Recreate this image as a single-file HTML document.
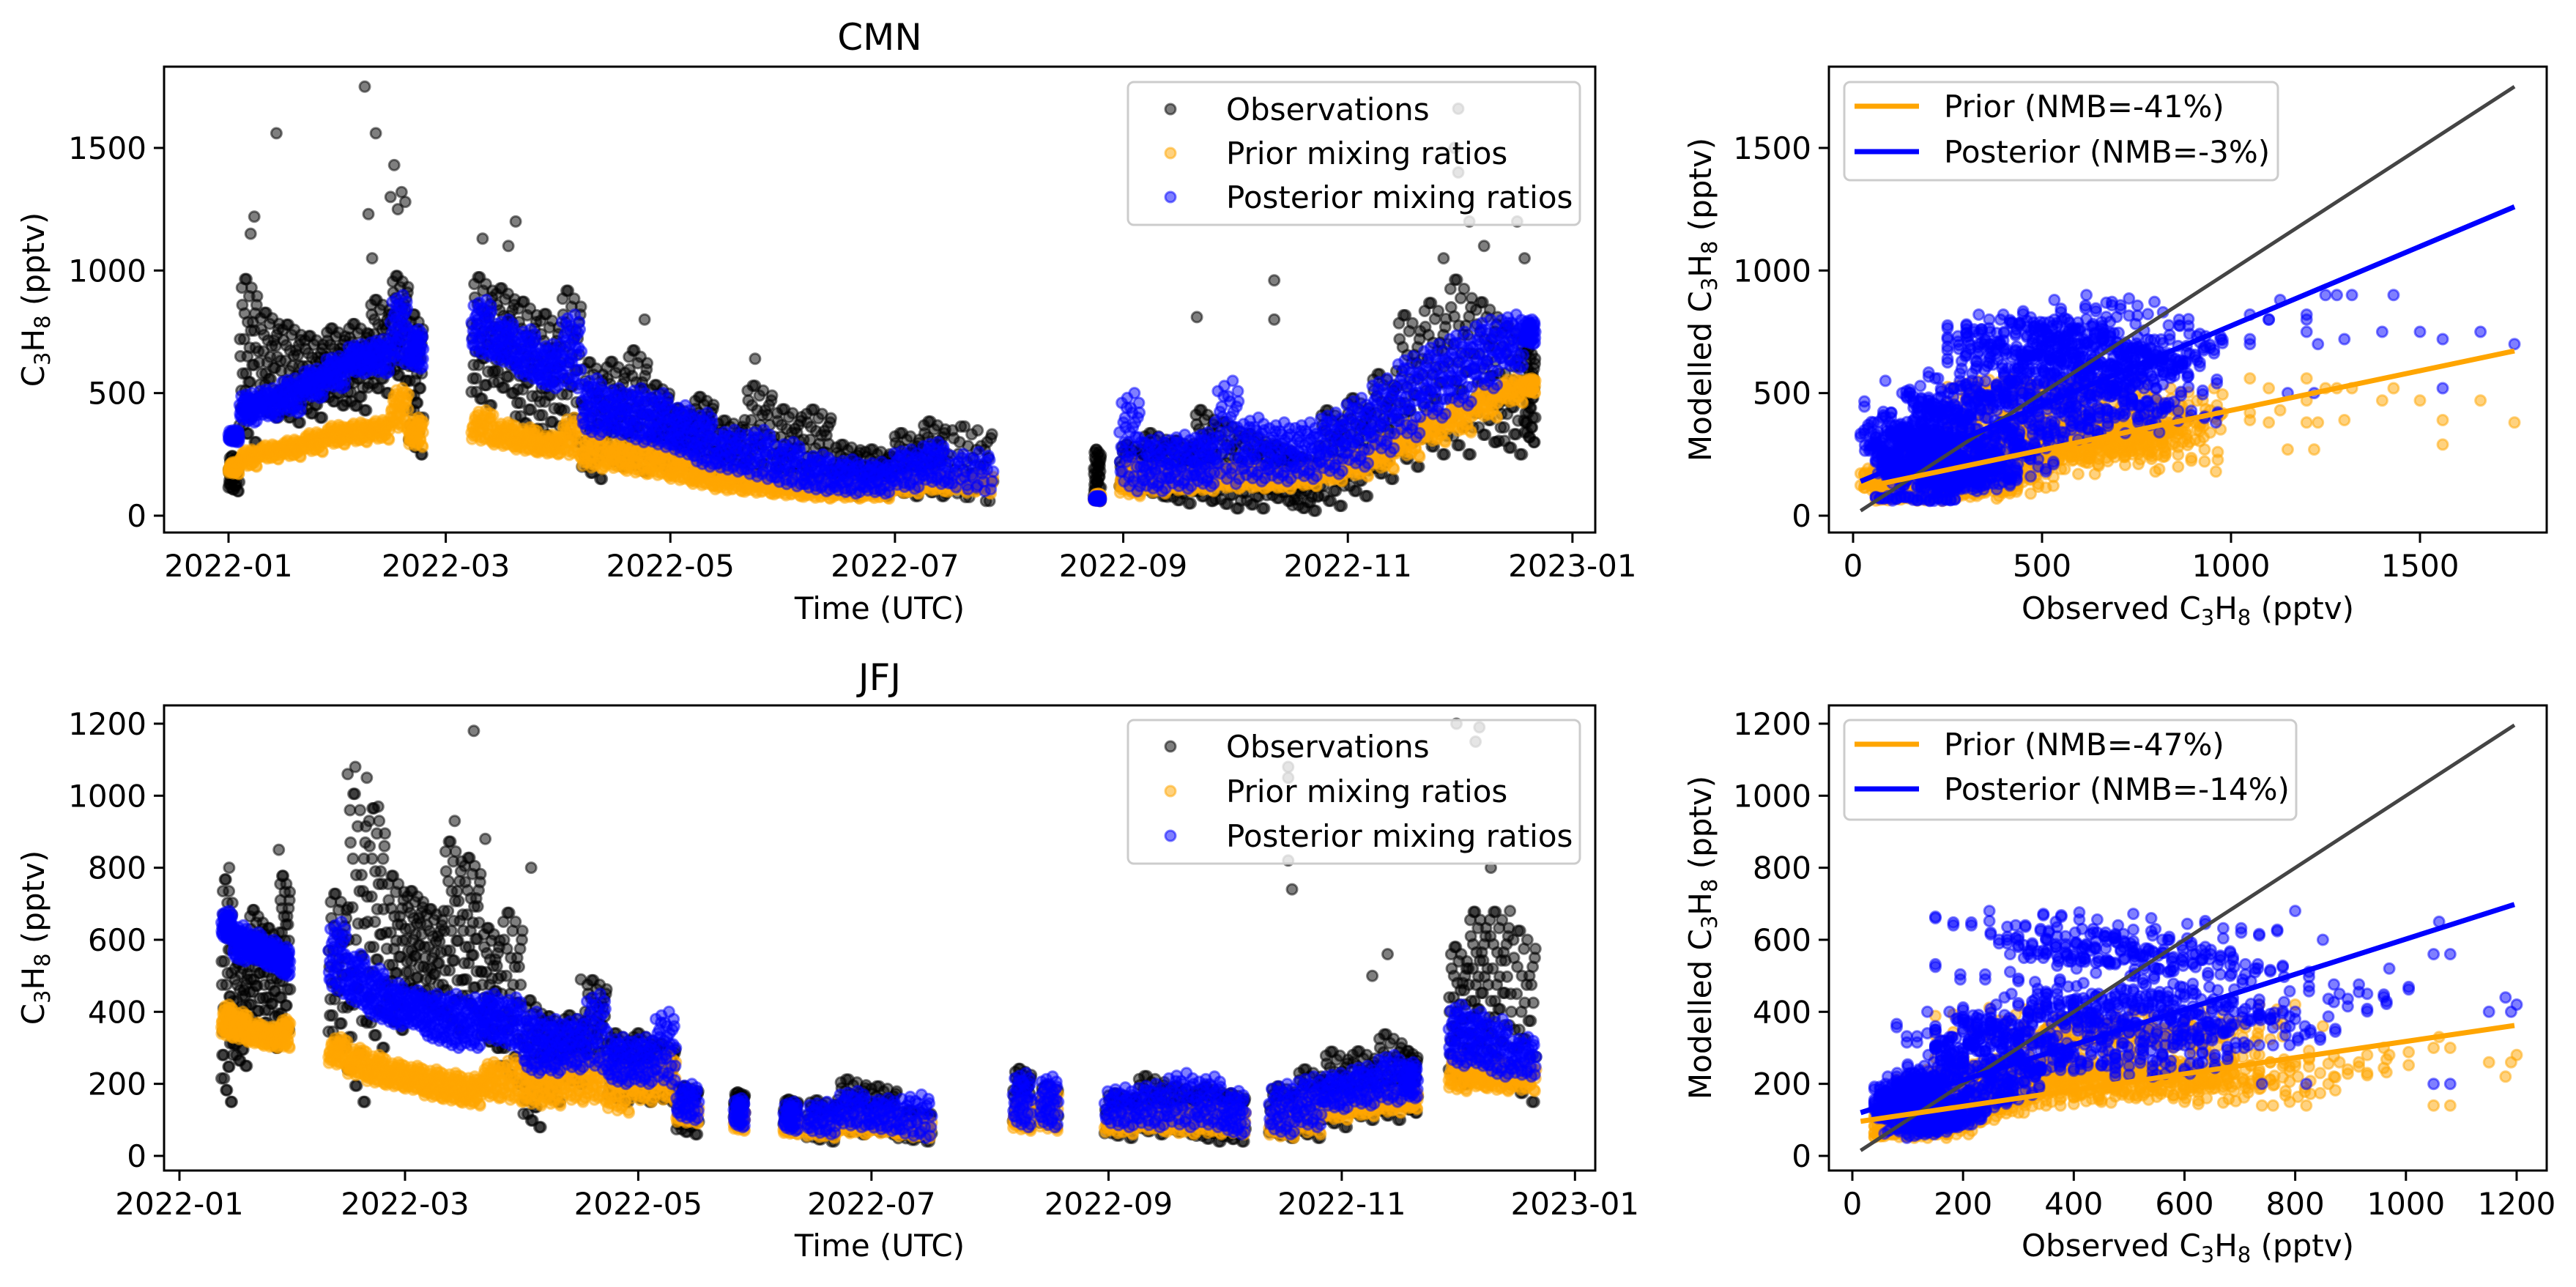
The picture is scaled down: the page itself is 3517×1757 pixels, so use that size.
<!DOCTYPE html>
<html><head><meta charset="utf-8"><style>
html,body{margin:0;padding:0;background:#fff}
svg{display:block}
text{font-family:"DejaVu Sans","Liberation Sans",sans-serif;fill:#000}
</style></head><body>
<svg id="fig" xmlns="http://www.w3.org/2000/svg" width="3517" height="1757" viewBox="0 0 3517 1757">
<defs>
<clipPath id="c1"><rect x="224" y="91" width="1954" height="636"/></clipPath>
<clipPath id="c2"><rect x="2497" y="91" width="980" height="636"/></clipPath>
<clipPath id="c3"><rect x="224" y="963" width="1954" height="635"/></clipPath>
<clipPath id="c4"><rect x="2497" y="963" width="980" height="635"/></clipPath>
</defs>
<g id="g1" clip-path="url(#c1)"></g>
<g id="g2" clip-path="url(#c2)"></g>
<g id="g3" clip-path="url(#c3)"></g>
<g id="g4" clip-path="url(#c4)"></g>
<g id="axes"></g>

<text x="1201" y="68" font-size="50" text-anchor="middle">CMN</text>
<text x="1201" y="942" font-size="50" text-anchor="middle">JFJ</text>
<text x="1201" y="845" font-size="42" text-anchor="middle">Time (UTC)</text>
<text x="1201" y="1715" font-size="42" text-anchor="middle">Time (UTC)</text>
<text x="2987" y="845" font-size="42" text-anchor="middle">Observed C<tspan font-size="29" dy="8">3</tspan><tspan dy="-8">H</tspan><tspan font-size="29" dy="8">8</tspan><tspan dy="-8"> (pptv)</tspan></text>
<text x="2987" y="1715" font-size="42" text-anchor="middle">Observed C<tspan font-size="29" dy="8">3</tspan><tspan dy="-8">H</tspan><tspan font-size="29" dy="8">8</tspan><tspan dy="-8"> (pptv)</tspan></text>
<text transform="translate(60,409) rotate(-90)" font-size="42" text-anchor="middle">C<tspan font-size="29" dy="8">3</tspan><tspan dy="-8">H</tspan><tspan font-size="29" dy="8">8</tspan><tspan dy="-8"> (pptv)</tspan></text>
<text transform="translate(60,1280) rotate(-90)" font-size="42" text-anchor="middle">C<tspan font-size="29" dy="8">3</tspan><tspan dy="-8">H</tspan><tspan font-size="29" dy="8">8</tspan><tspan dy="-8"> (pptv)</tspan></text>
<text transform="translate(2336,409) rotate(-90)" font-size="42" text-anchor="middle">Modelled C<tspan font-size="29" dy="8">3</tspan><tspan dy="-8">H</tspan><tspan font-size="29" dy="8">8</tspan><tspan dy="-8"> (pptv)</tspan></text>
<text transform="translate(2336,1280) rotate(-90)" font-size="42" text-anchor="middle">Modelled C<tspan font-size="29" dy="8">3</tspan><tspan dy="-8">H</tspan><tspan font-size="29" dy="8">8</tspan><tspan dy="-8"> (pptv)</tspan></text>

<g>
<rect x="1540" y="112" width="617" height="195" rx="8" fill="#fff" fill-opacity="0.8" stroke="#ccc" stroke-width="3"/>
<circle cx="1598" cy="149" r="7" fill="#000" fill-opacity="0.5" stroke="#000" stroke-opacity="0.5" stroke-width="3"/>
<circle cx="1598" cy="209" r="7" fill="orange" fill-opacity="0.5" stroke="orange" stroke-opacity="0.5" stroke-width="3"/>
<circle cx="1598" cy="269" r="7" fill="blue" fill-opacity="0.5" stroke="blue" stroke-opacity="0.5" stroke-width="3"/>
<text x="1674" y="164" font-size="42">Observations</text>
<text x="1674" y="224" font-size="42">Prior mixing ratios</text>
<text x="1674" y="284" font-size="42">Posterior mixing ratios</text>
</g>
<g>
<rect x="1540" y="983" width="617" height="196" rx="8" fill="#fff" fill-opacity="0.8" stroke="#ccc" stroke-width="3"/>
<circle cx="1598" cy="1019" r="7" fill="#000" fill-opacity="0.5" stroke="#000" stroke-opacity="0.5" stroke-width="3"/>
<circle cx="1598" cy="1080" r="7" fill="orange" fill-opacity="0.5" stroke="orange" stroke-opacity="0.5" stroke-width="3"/>
<circle cx="1598" cy="1141" r="7" fill="blue" fill-opacity="0.5" stroke="blue" stroke-opacity="0.5" stroke-width="3"/>
<text x="1674" y="1034" font-size="42">Observations</text>
<text x="1674" y="1095" font-size="42">Prior mixing ratios</text>
<text x="1674" y="1156" font-size="42">Posterior mixing ratios</text>
</g>
<g>
<rect x="2518" y="112" width="592" height="134" rx="8" fill="#fff" fill-opacity="0.8" stroke="#ccc" stroke-width="3"/>
<line x1="2532" y1="145" x2="2620" y2="145" stroke="orange" stroke-width="7"/>
<line x1="2532" y1="207" x2="2620" y2="207" stroke="blue" stroke-width="7"/>
<text x="2654" y="160" font-size="42">Prior (NMB=-41%)</text>
<text x="2654" y="222" font-size="42">Posterior (NMB=-3%)</text>
</g>
<g>
<rect x="2518" y="983" width="617" height="136" rx="8" fill="#fff" fill-opacity="0.8" stroke="#ccc" stroke-width="3"/>
<line x1="2532" y1="1016" x2="2620" y2="1016" stroke="orange" stroke-width="7"/>
<line x1="2532" y1="1077" x2="2620" y2="1077" stroke="blue" stroke-width="7"/>
<text x="2654" y="1031" font-size="42">Prior (NMB=-47%)</text>
<text x="2654" y="1092" font-size="42">Posterior (NMB=-14%)</text>
</g>
</svg>
<script>
// ---- CMN binned data: [startDay, endDay] (days since 2022-01-01) and value ranges (pptv)
const cmnStart=[0,3,8,14,20,26,32,38,44,49,66,72,78,84,90,96,102,108,114,120,126,132,140,148,156,164,172,180,188,195,235,242,248,255,262,268,275,282,289,296,303,310,317,324,331,338,345,352];
const cmnEnd  =[3,8,14,20,26,32,38,44,49,53,72,78,84,90,96,102,108,114,120,126,132,140,148,156,164,172,180,188,195,208,237,248,255,262,268,275,282,289,296,303,310,317,324,331,338,345,352,355];
const cmnObsLo=[100,300,400,380,400,450,430,500,550,250,450,500,350,300,300,150,200,180,200,200,180,150,150,130,100,80,80,80,80,60,60,100,80,50,60,30,30,60,20,40,80,150,200,250,250,300,250,300];
const cmnObsHi=[250,1000,850,800,750,780,800,900,1000,850,1000,950,900,850,950,650,650,700,550,450,500,400,550,450,450,300,280,350,400,380,280,300,350,320,450,400,350,300,250,450,500,600,850,900,1000,900,800,700];
const cmnPriLo=[170,200,230,240,260,290,300,310,350,280,300,280,260,250,240,190,190,170,160,140,120,100,90,80,70,70,70,90,100,90,60,80,90,100,100,110,110,110,120,140,160,190,240,300,340,400,460,500];
const cmnPriHi=[220,270,290,310,340,370,380,390,520,400,430,380,360,330,400,330,300,300,280,250,220,180,170,150,140,140,130,160,170,170,90,220,200,180,190,200,200,180,200,220,260,320,380,420,470,520,560,560];
const cmnPostLo=[300,380,400,420,480,520,580,580,620,600,650,620,560,520,520,330,330,300,280,250,200,180,150,120,100,90,90,110,130,100,60,100,100,110,120,130,140,140,150,170,200,260,320,400,450,520,600,700];
const cmnPostHi=[350,500,520,560,600,650,700,720,900,760,880,800,760,700,820,560,520,520,500,450,420,350,350,300,250,230,220,270,300,260,80,500,320,330,340,550,400,380,380,420,480,560,650,700,750,800,820,800];
const cmnOutDay=[7,6,13,37,38,39,40,45,44,46,47,48,69,76,78,113,143,263,284,284,350,334,333,334,337,341,330,352];
const cmnOutVal=[1220,1150,1560,1750,1230,1050,1560,1430,1300,1250,1320,1280,1130,1100,1200,800,640,810,960,800,1200,1660,1500,1400,1200,1100,1050,1050];
const cmnFitX=[20,1750];
const cmnPriorFit=[113,672];
const cmnPostFit=[140,1260];
const cmnXTicks=["2022-01","2022-03","2022-05","2022-07","2022-09","2022-11","2023-01"];
const cmnXTickDays=[0,59,120,181,243,304,365];
const cmnYTicks=[0,500,1000,1500];
const cmnSXTicks=[0,500,1000,1500];

// ---- JFJ binned data
const jfjStart=[11,14,18,22,26,39,44,49,54,59,64,69,74,79,84,90,95,100,106,112,118,124,130,145,158,164,172,180,188,218,225,242,250,258,266,273,285,292,299,306,313,320,332,337,342,348];
const jfjEnd  =[14,18,22,26,29,44,49,54,59,64,69,74,79,84,90,95,100,106,112,118,124,130,136,148,162,172,180,188,197,223,230,250,258,266,273,279,292,299,306,313,320,324,337,342,348,355];
const jfjObsLo=[150,250,350,300,350,300,150,300,350,450,400,350,400,300,200,80,150,200,250,150,150,150,60,100,80,40,60,60,40,80,80,50,60,60,40,40,50,50,80,100,100,120,200,250,250,150];
const jfjObsHi=[800,550,700,650,800,750,1050,1000,800,750,700,900,850,650,700,450,400,400,500,350,350,320,200,180,160,160,220,200,130,250,200,180,230,200,200,180,200,250,300,300,350,300,600,700,700,650];
const jfjPriLo=[330,320,310,300,300,250,220,200,190,180,160,150,140,160,150,140,140,150,150,120,150,150,90,70,60,50,60,60,50,70,70,60,70,60,60,60,50,60,100,110,120,130,180,190,180,180];
const jfjPriHi=[420,400,370,360,380,330,300,280,260,250,240,230,220,260,270,250,250,270,270,250,250,280,140,130,100,100,120,120,100,150,190,120,130,130,140,130,140,170,160,170,180,180,280,260,260,250];
const jfjPostLo=[600,540,540,520,500,450,420,380,360,360,320,300,300,320,300,230,230,240,240,200,200,200,100,80,70,60,80,70,50,80,80,80,80,80,80,60,60,80,130,140,150,160,250,250,220,220];
const jfjPostHi=[680,640,620,600,580,650,560,520,480,460,450,450,440,450,440,400,380,380,450,330,330,400,200,160,150,150,180,160,170,230,220,190,200,230,220,180,200,220,230,250,280,260,420,400,380,330];
const jfjOutDay=[13,26,46,44,49,52,77,72,80,92,105,290,290,290,291,316,312,334,340,339,343,348];
const jfjOutVal=[800,850,1080,1060,1050,970,1180,930,880,800,490,1080,1050,820,740,560,500,1200,1190,1150,800,680];
const jfjFitX=[15,1196];
const jfjPriorFit=[96,362];
const jfjPostFit=[120,698];
const jfjXTicks=["2022-01","2022-03","2022-05","2022-07","2022-09","2022-11","2023-01"];
const jfjXTickDays=[0,59,120,181,243,304,365];
const jfjYTicks=[0,200,400,600,800,1000,1200];
const jfjSXTicks=[0,200,400,600,800,1000,1200];

// fixed in-bin spread patterns (fractions of each bin's range)
const patObs=[0.1,0.5,0.3,0.8,0.2,0.6,0.95,0.4,0.05,0.7,0.35,0.55,0.15,0.9,0.45,0.25,0.65,0.75,0.0,0.85];
const patMod=[0.3,0.45,0.2,0.7,0.5,0.65,0.85,0.35,0.15,0.6,0.4,0.8,0.1,1.0,0.55,0.25,0.75,0.9,0.05,0.5];
const patMod2=[0.6,0.2,0.9,0.4,0.1,0.75,0.3,0.95,0.5,0.05,0.85,0.35,0.65,0.15,0.7,0.45,0.0,0.55,0.8,0.25];

const NS='http://www.w3.org/2000/svg';
function mk(tag,attrs,parent){const e=document.createElementNS(NS,tag);for(const k in attrs)e.setAttribute(k,attrs[k]);parent.appendChild(e);return e;}
const COL={obs:'#000',pri:'orange',post:'blue'};
function dot(g,x,y,c){const e=mk('circle',{cx:x.toFixed(1),cy:y.toFixed(1),r:7,fill:c,'fill-opacity':0.5,stroke:c,'stroke-opacity':0.5,'stroke-width':3},g);

}

const P=[
 {S:cmnStart,E:cmnEnd,oL:cmnObsLo,oH:cmnObsHi,pL:cmnPriLo,pH:cmnPriHi,qL:cmnPostLo,qH:cmnPostHi,oD:cmnOutDay,oV:cmnOutVal,fx:cmnFitX,pf:cmnPriorFit,qf:cmnPostFit,xt:cmnXTicks,xd:cmnXTickDays,yt:cmnYTicks,sxt:cmnSXTicks,
  L:224,R:2178,T:91,B:727,d0:312,dpx:5.027,y0:704,ypx:0.3347,SL:2497,SR:3477,sx0:2530,sxp:0.516,g1:'g1',g2:'g2',nm:'cmn'},
 {S:jfjStart,E:jfjEnd,oL:jfjObsLo,oH:jfjObsHi,pL:jfjPriLo,pH:jfjPriHi,qL:jfjPostLo,qH:jfjPostHi,oD:jfjOutDay,oV:jfjOutVal,fx:jfjFitX,pf:jfjPriorFit,qf:jfjPostFit,xt:jfjXTicks,xd:jfjXTickDays,yt:jfjYTicks,sxt:jfjSXTicks,
  L:224,R:2178,T:963,B:1598,d0:245,dpx:5.22,y0:1578,ypx:0.4917,SL:2497,SR:3477,sx0:2529,sxp:0.7558,g1:'g3',g2:'g4',nm:'jfj'}
];
const axes=document.getElementById('axes');
P.forEach(p=>{
 const X=d=>p.d0+d*p.dpx, Y=v=>p.y0-v*p.ypx, SX=v=>p.sx0+v*p.sxp;
 const g1=document.getElementById(p.g1), g2=document.getElementById(p.g2);
 const N=patObs.length;
 const lay={obs:[],pri:[],post:[]};
 const sPri=[],sPost=[];
 const passes=[[patObs,patMod,patMod2,0],[patMod2,patObs,patMod,0.5]];
 for(let b=0;b<p.S.length;b++){
  passes.forEach(ps=>{
  for(let i=0;i<N;i++){
   const d=p.S[b]+(p.E[b]-p.S[b])*(i+ps[3])/N;
   const ov=p.oL[b]+(p.oH[b]-p.oL[b])*ps[0][i];
   const pv=p.pL[b]+(p.pH[b]-p.pL[b])*ps[1][i];
   const qv=p.qL[b]+(p.qH[b]-p.qL[b])*ps[2][i];
   lay.obs.push([X(d),Y(ov)]);lay.pri.push([X(d),Y(pv)]);lay.post.push([X(d),Y(qv)]);
   sPri.push([SX(ov),Y(pv)]);sPost.push([SX(ov),Y(qv)]);
  }});
 }
 for(let k=0;k<p.oD.length;k++){
  lay.obs.push([X(p.oD[k]),Y(p.oV[k])]);
  let b=p.S.findIndex((s,j)=>p.oD[k]>=s&&p.oD[k]<=p.E[j]); if(b<0)b=0;
  sPri.push([SX(p.oV[k]),Y(p.pH[b])]);sPost.push([SX(p.oV[k]),Y(p.qH[b])]);
 }
 lay.obs.forEach(q=>dot(g1,q[0],q[1],COL.obs));
 lay.pri.forEach(q=>dot(g1,q[0],q[1],COL.pri));
 lay.post.forEach(q=>dot(g1,q[0],q[1],COL.post));
 sPri.forEach(q=>dot(g2,q[0],q[1],COL.pri));
 sPost.forEach(q=>dot(g2,q[0],q[1],COL.post));
 const l1=mk('line',{x1:SX(p.fx[0]),y1:Y(p.fx[0]),x2:SX(p.fx[1]),y2:Y(p.fx[1]),stroke:'#444','stroke-width':5},g2);
 
 
 const l2=mk('line',{x1:SX(p.fx[0]),y1:Y(p.pf[0]),x2:SX(p.fx[1]),y2:Y(p.pf[1]),stroke:'orange','stroke-width':7},g2);
 
 
 const l3=mk('line',{x1:SX(p.fx[0]),y1:Y(p.qf[0]),x2:SX(p.fx[1]),y2:Y(p.qf[1]),stroke:'blue','stroke-width':7},g2);
 
 
 const f1=mk('rect',{x:p.L,y:p.T,width:p.R-p.L,height:p.B-p.T,fill:'none',stroke:'#000','stroke-width':3},axes);
 
 
 const f2=mk('rect',{x:p.SL,y:p.T,width:p.SR-p.SL,height:p.B-p.T,fill:'none',stroke:'#000','stroke-width':3},axes);
 
 
 p.xd.forEach((d,i)=>{const x=X(d);
  mk('line',{x1:x,y1:p.B,x2:x,y2:p.B+14,stroke:'#000','stroke-width':3},axes);
  const t=mk('text',{x:x,y:p.B+60,'font-size':42,'text-anchor':'middle'},axes);t.textContent=p.xt[i];
  
  });
 p.yt.forEach(v=>{const y=Y(v);
  [p.L,p.SL].forEach(ax=>{
   mk('line',{x1:ax-14,y1:y,x2:ax,y2:y,stroke:'#000','stroke-width':3},axes);
   const t=mk('text',{x:ax-24,y:y+15,'font-size':42,'text-anchor':'end'},axes);t.textContent=v;
   
   });});
 p.sxt.forEach(v=>{const x=SX(v);
  mk('line',{x1:x,y1:p.B,x2:x,y2:p.B+14,stroke:'#000','stroke-width':3},axes);
  const t=mk('text',{x:x,y:p.B+60,'font-size':42,'text-anchor':'middle'},axes);t.textContent=v;
  
  });
});
</script>
</body></html>
